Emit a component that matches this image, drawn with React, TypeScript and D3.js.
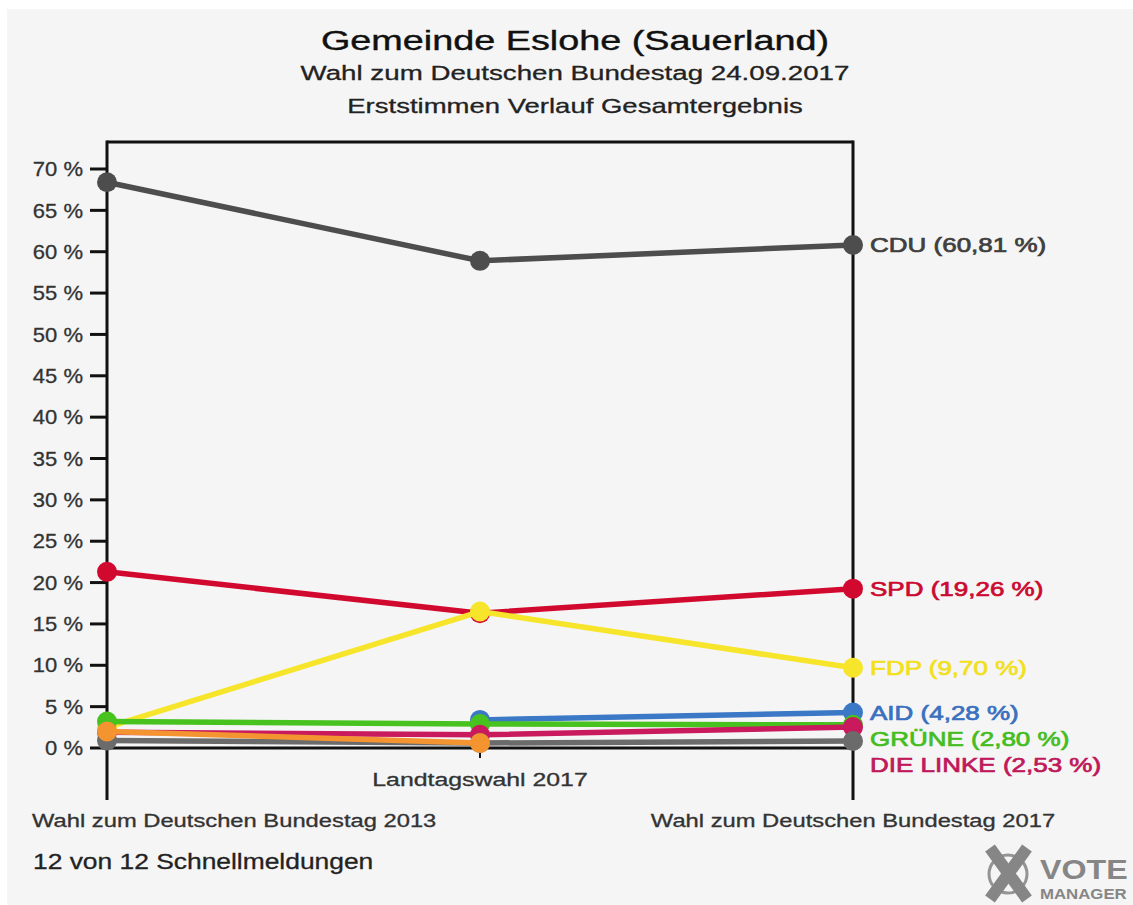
import React from 'react'
import * as d3 from 'd3'

// elections (x categories)
const elections = ['Wahl zum Deutschen Bundestag 2013', 'Landtagswahl 2017', 'Wahl zum Deutschen Bundestag 2017']

// Erststimmen in %, per election
const cdu = [68.4, 58.9, 60.81]
const spd = [21.3, 16.3, 19.26]
const fdp = [2.5, 16.5, 9.7]
const afd = [null, 3.4, 4.28]
const gruene = [3.2, 2.9, 2.8]
const linke = [1.9, 1.6, 2.53]
const grau = [0.9, 0.6, 0.85]
const orange = [2.0, 0.6, null]

const yTicks = [0, 5, 10, 15, 20, 25, 30, 35, 40, 45, 50, 55, 60, 65, 70]

const series = [
  { name: 'CDU', values: cdu, color: '#4d4d4d', text: '#3f3f3f' },
  { name: 'SPD', values: spd, color: '#d2092f', text: '#cc0a30' },
  { name: 'FDP', values: fdp, color: '#f6e52a', text: '#f2df1e' },
  { name: 'AID', values: afd, color: '#3b78c6', text: '#3a70bf' },
  { name: 'GRÜNE', values: gruene, color: '#47c21e', text: '#45bd1f' },
  { name: 'DIE LINKE', values: linke, color: '#c81a5c', text: '#c0185a' },
  { name: null, values: grau, color: '#6b6b6b', text: '#6b6b6b' },
  { name: null, values: orange, color: '#f49430', text: '#f49430' },
]

const W = 1133
const H = 905
const top = 142
const left = 107
const right = 853
const base = 748

const fmt = (v: number) => v.toFixed(2).replace('.', ',') + ' %'

// text with horizontal stretch (reference font renders wide)
function Txt({ x, y, sx = 1, size, anchor = 'start', fill = '#333', weight = 'normal', dy = '0', bold = 0.3, children }: any) {
  return (
    <text
      transform={`translate(${x},${y}) scale(${sx},1)`}
      dy={dy}
      fontSize={size}
      fontWeight={weight}
      textAnchor={anchor}
      fill={fill}
      stroke={fill}
      strokeWidth={bold}
      fontFamily='"Liberation Sans", Arial, sans-serif'
    >
      {children}
    </text>
  )
}

export default function App() {
  const x = d3.scalePoint<string>().domain(elections).range([left, right])
  const y = d3.scaleLinear().domain([0, 70]).range([base, 169])

  const line = d3.line<number | null>()
    .defined(d => d != null)
    .x((_, i) => x(elections[i]) as number)
    .y(d => y(d as number))

  // end labels, pushed down so they don't overlap
  const labels = series
    .filter(s => s.name && s.values[2] != null)
    .map(s => ({ ...s, v: s.values[2] as number, ly: y(s.values[2] as number) }))
    .sort((a, b) => a.ly - b.ly)
  for (let i = 1; i < labels.length; i++) {
    if (labels[i].ly < labels[i - 1].ly + 26) labels[i].ly = labels[i - 1].ly + 26
  }

  return (
    <svg width={W} height={H} style={{ position: 'absolute', left: 0, top: 0 }}>
      <rect x={0} y={0} width={W} height={H} fill='#fff' />
      <rect x={7} y={9} width={W - 7} height={H - 9} fill='#f5f5f5' />

      {/* titles */}
      <Txt x={575} y={50} size={27} sx={1.4} anchor='middle' fill='#111' bold={0.4}>Gemeinde Eslohe (Sauerland)</Txt>
      <Txt x={575} y={80} size={21} sx={1.32} anchor='middle' fill='#222'>Wahl zum Deutschen Bundestag 24.09.2017</Txt>
      <Txt x={575} y={113} size={21} sx={1.31} anchor='middle' fill='#222'>Erststimmen Verlauf Gesamtergebnis</Txt>

      {/* frame */}
      <line x1={left} x2={right} y1={top} y2={top} stroke='#111' strokeWidth={3} />
      <line x1={left} x2={left} y1={top - 1.5} y2={800} stroke='#111' strokeWidth={3} />
      <line x1={right} x2={right} y1={top - 1.5} y2={800} stroke='#111' strokeWidth={3} />
      <line x1={left} x2={right} y1={base} y2={base} stroke='#111' strokeWidth={3} />
      <line x1={x(elections[1])} x2={x(elections[1])} y1={base} y2={758} stroke='#111' strokeWidth={2} />

      {/* y axis */}
      {yTicks.map(t => (
        <g key={t}>
          <line x1={90} x2={left} y1={y(t)} y2={y(t)} stroke='#111' strokeWidth={3} />
          <Txt x={83} y={y(t)} dy='0.36em' size={20} sx={1.1} anchor='end' fill='#333'>{t + ' %'}</Txt>
        </g>
      ))}

      {/* x labels */}
      <Txt x={32} y={827} size={18} sx={1.32} fill='#333'>{elections[0]}</Txt>
      <Txt x={x(elections[1])} y={786} size={18} sx={1.38} anchor='middle' fill='#333'>{elections[1]}</Txt>
      <Txt x={x(elections[2])} y={827} size={18} sx={1.32} anchor='middle' fill='#333'>{elections[2]}</Txt>

      {/* series */}
      {series.map((s, si) => (
        <g key={si}>
          <path d={line(s.values) || ''} fill='none' stroke={s.color} strokeWidth={5.5} strokeLinejoin='round' />
          {s.values.map((v, i) => v == null ? null : (
            <circle key={i} cx={x(elections[i])} cy={y(v)} r={10} fill={s.color} />
          ))}
        </g>
      ))}

      {/* end labels */}
      {labels.map(l => (
        <Txt key={l.name} x={870} y={l.ly} dy='0.36em' size={20} sx={1.3} fill={l.text} bold={0.7}>
          {`${l.name} (${fmt(l.v)})`}
        </Txt>
      ))}

      <Txt x={33} y={869} size={22} sx={1.2} fill='#222'>12 von 12 Schnellmeldungen</Txt>

      {/* logo */}
      <g opacity={0.9}>
        <circle cx={1008} cy={874} r={19} fill='none' stroke='#8a8a8a' strokeWidth={3} />
        <line x1={990} y1={848} x2={1027} y2={899} stroke='#7a7a7a' strokeWidth={12} />
        <line x1={1027} y1={848} x2={990} y2={899} stroke='#7a7a7a' strokeWidth={12} />
        <Txt x={1040} y={879} size={28} sx={1.15} weight='bold' fill='#7a7a7a' bold={0}>VOTE</Txt>
        <Txt x={1040} y={899} size={14} sx={1.2} weight='bold' fill='#7a7a7a' bold={0}>MANAGER</Txt>
      </g>
    </svg>
  )
}
